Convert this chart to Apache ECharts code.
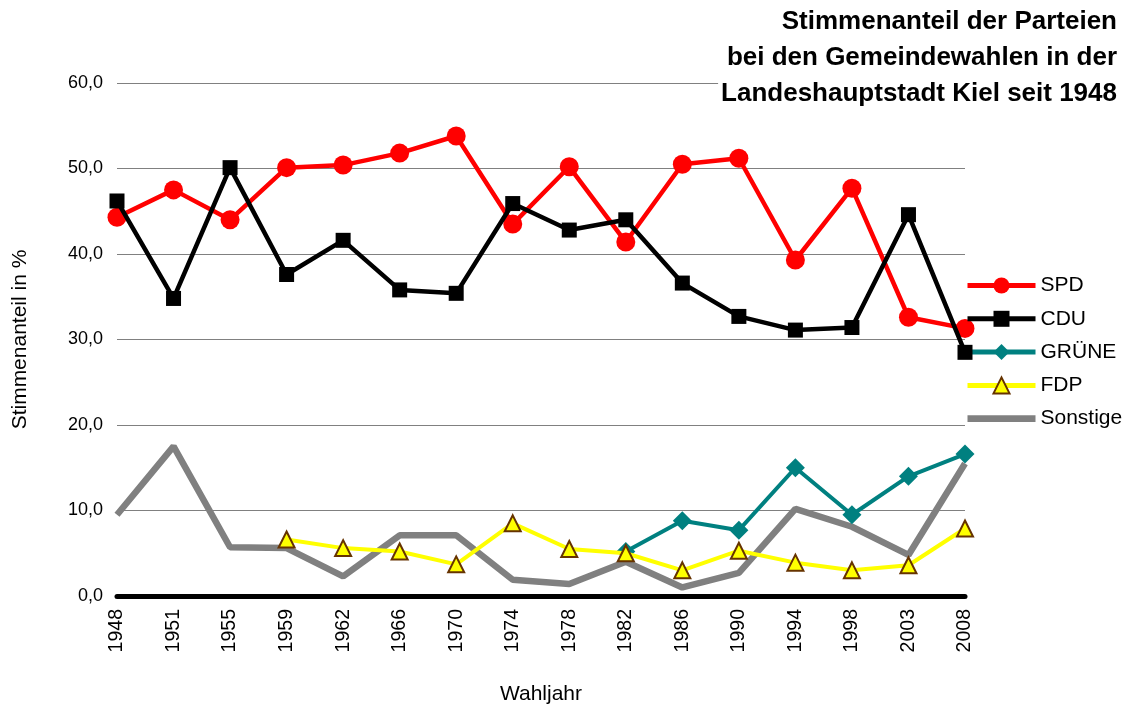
<!DOCTYPE html>
<html>
<head>
<meta charset="utf-8">
<script src="https://cdn.jsdelivr.net/npm/echarts@6/dist/echarts.min.js"></script>
<style>
  html, body { margin: 0; padding: 0; background: #fff; }
  #chart { width: 1126px; height: 704px; }
</style>
</head>
<body>
<div id="chart"></div>
<script>
// Wahljahre
const years = ['1948', '1951', '1955', '1959', '1962', '1966', '1970', '1974',
  '1978', '1982', '1986', '1990', '1994', '1998', '2003', '2008'];
// Stimmenanteile in %
const spd = [44.3, 47.5, 44.0, 50.1, 50.4, 51.8, 53.8, 43.5, 50.2, 41.4, 50.5, 51.2, 39.3, 47.7, 32.6, 31.3];
const cdu = [46.2, 34.8, 50.1, 37.6, 41.6, 35.8, 35.4, 45.9, 42.8, 44.0, 36.6, 32.7, 31.1, 31.4, 44.6, 28.5];
const gruene = [null, null, null, null, null, null, null, null, null, 5.2, 8.8, 7.7, 15.0, 9.5, 14.0, 16.6];
const fdp = [null, null, null, 6.6, 5.6, 5.2, 3.7, 8.5, 5.5, 5.0, 3.0, 5.3, 3.9, 3.0, 3.6, 7.9];
const sonstige = [9.5, 17.5, 5.7, 5.6, 2.3, 7.1, 7.1, 1.9, 1.4, 4.0, 1.0, 2.7, 10.2, 8.1, 4.8, 15.5];
// Titelzeilen
const titleLines = ['Stimmenanteil der Parteien', 'bei den Gemeindewahlen in der', 'Landeshauptstadt Kiel seit 1948'];

const chart = echarts.init(document.getElementById('chart'));
const font = 'Liberation Sans, Arial, sans-serif';

const option = {
  backgroundColor: '#fff',
  animation: false,
  textStyle: { fontFamily: font },
  graphic: titleLines.map(function (line, i) {
    return {
      type: 'text',
      right: 9,
      top: 9 + i * 36,
      z: 100,
      style: {
        text: line,
        font: 'bold 26px "Liberation Sans", Arial, sans-serif',
        fill: '#000',
        backgroundColor: '#fff',
        padding: [0, 0, 0, 3]
      }
    };
  }),
  legend: {
    orient: 'vertical',
    left: 960,
    top: 270,
    itemWidth: 68,
    itemHeight: 20,
    itemGap: 12.3,
    lineStyle: { width: 5 },
    textStyle: { fontFamily: font, fontSize: 21, color: '#000', lineHeight: 20 },
    data: [
      'SPD', 'CDU', 'GRÜNE', 'FDP',
      { name: 'Sonstige', icon: 'path://M0,0 L70,0 L70,7 L0,7 Z' }
    ]
  },
  grid: {
    left: 117,
    right: 161,
    top: 83,
    bottom: 108,
    outerBoundsMode: 'none',
    containLabel: false
  },
  xAxis: {
    type: 'category',
    data: years,
    boundaryGap: false,
    name: 'Wahljahr',
    nameLocation: 'middle',
    nameGap: 88,
    nameTextStyle: { fontFamily: font, fontSize: 21, color: '#000' },
    axisLine: { show: true, lineStyle: { color: '#000', width: 5, cap: 'round' } },
    axisTick: { show: false },
    axisLabel: {
      rotate: 90,
      margin: 13,
      fontFamily: font,
      fontSize: 19.5,
      color: '#000',
      interval: 0
    },
    splitLine: { show: false }
  },
  yAxis: {
    type: 'value',
    min: 0,
    max: 60,
    interval: 10,
    name: 'Stimmenanteil in %',
    nameLocation: 'middle',
    nameGap: 86,
    nameRotate: 90,
    nameTextStyle: { fontFamily: font, fontSize: 21, color: '#000' },
    axisLine: { show: false },
    axisTick: { show: false },
    axisLabel: {
      margin: 14,
      fontFamily: font,
      fontSize: 18,
      color: '#000',
      formatter: function (v) { return v.toFixed(1).replace('.', ','); }
    },
    splitLine: { show: true, lineStyle: { color: '#808080', width: 1 } }
  },
  series: [
    {
      name: 'Sonstige',
      type: 'line',
      data: sonstige,
      symbol: 'none',
      z: 1,
      color: '#808080',
      lineStyle: { color: '#808080', width: 6.5 }
    },
    {
      name: 'SPD',
      type: 'line',
      data: spd,
      symbol: 'circle',
      symbolSize: 19,
      z: 3,
      color: '#ff0000',
      itemStyle: { color: '#ff0000' },
      lineStyle: { color: '#ff0000', width: 4.5 }
    },
    {
      name: 'CDU',
      type: 'line',
      data: cdu,
      symbol: 'rect',
      symbolSize: 15,
      z: 4,
      color: '#000',
      itemStyle: { color: '#000' },
      lineStyle: { color: '#000', width: 4.5 }
    },
    {
      name: 'GRÜNE',
      type: 'line',
      data: gruene,
      symbol: 'diamond',
      symbolSize: 19,
      z: 5,
      color: '#008080',
      itemStyle: { color: '#008080' },
      lineStyle: { color: '#008080', width: 4 }
    },
    {
      name: 'FDP',
      type: 'line',
      data: fdp,
      symbol: 'triangle',
      symbolSize: 16,
      z: 6,
      color: '#ffff00',
      itemStyle: { color: '#ffff00', borderColor: '#663300', borderWidth: 2 },
      lineStyle: { color: '#ffff00', width: 4 }
    }
  ]
};

chart.setOption(option);
window.addEventListener('resize', function () {
  chart.resize();
});
</script>
</body>
</html>
